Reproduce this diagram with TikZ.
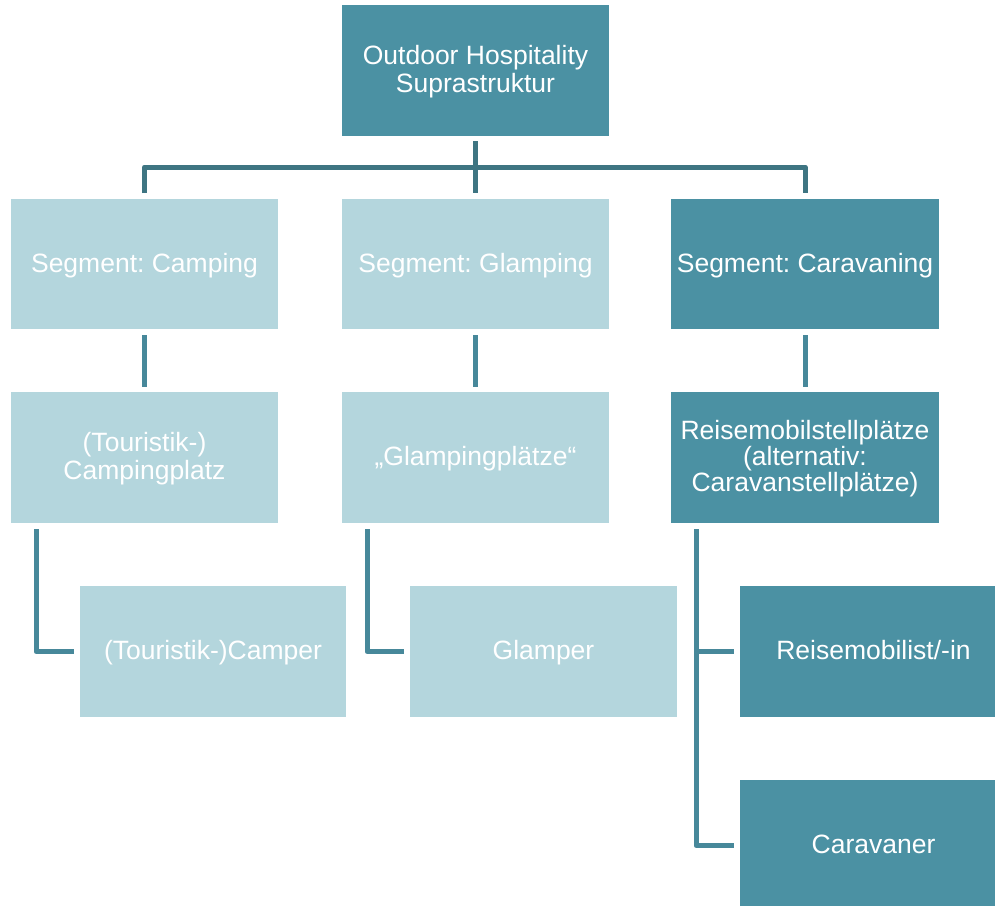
\documentclass[tikz,border=0pt]{standalone}
\usepackage{fontspec}
\setmainfont{Liberation Sans}
\frenchspacing
\definecolor{darkbox}{HTML}{4B91A3}
\definecolor{lightbox}{HTML}{B4D6DD}
\definecolor{lineA}{HTML}{3E7582}
\definecolor{lineB}{HTML}{47889A}
\newcommand\mytstrut{\rule{0pt}{22.2pt}}
\newcommand\mybstrut{\rule[-5.6pt]{0pt}{5.6pt}}
\begin{document}
\begin{tikzpicture}[x=1pt,y=-1pt,
  box/.style={rectangle, inner sep=0pt, outer sep=0pt, minimum width=267pt, minimum height=131pt,
    text=white, align=center, font=\fontsize{26.5}{28.3}\selectfont},
  dbox/.style={box, fill=darkbox},
  lbox/.style={box, fill=lightbox},
  conn/.style={line width=5pt, line join=round},
]
\useasboundingbox (0,0) rectangle (995,905);
\clip (0,0) rectangle (995,905);
\fill[white] (0,0) rectangle (995,905);

\node[dbox] (top) at (475.5,70.5) {\mytstrut Outdoor Hospitality\\Suprastruktur\mybstrut};

\node[lbox, minimum height=130pt] (camp) at (144.5,264) {\mytstrut Segment: Camping\mybstrut};
\node[lbox, minimum height=130pt] (glam) at (475.5,264) {\mytstrut Segment: Glamping\mybstrut};
\node[dbox, minimum height=130pt, minimum width=268pt] (cara) at (805,264) {\mytstrut Segment: Caravaning\mybstrut};

\node[lbox] (cpl) at (144.5,457.5) {\mytstrut(Touristik-)\\Campingplatz\mybstrut};
\node[lbox] (gpl) at (475.5,457.5) {\mytstrut„Glampingplätze“\mybstrut};
\node[dbox, minimum width=268pt, font=\fontsize{26.5}{26}\selectfont] (rsp) at (805,457.5) {\mytstrut Reisemobilstellplätze\\(alternativ:\\Caravanstellplätze)\mybstrut};

\node[lbox, minimum width=266pt] (camper) at (213,651.5) {\mytstrut(Touristik-)Camper\mybstrut};
\node[lbox] (glamper) at (543.5,651.5) {\mytstrut Glamper\mybstrut};
\node[dbox] (rmb) at (873.5,651.5) {\mytstrut Reisemobilist/-in\mybstrut};
\node[dbox] (cvn) at (873.5,845.5) {\mytstrut Caravaner\mybstrut};

% top level bus
\draw[conn, lineA, shorten <=6pt, shorten >=6pt] (camp.north) -- ++(0,-32) -| (cara.north);
\draw[conn, lineA, shorten <=5pt, shorten >=6pt] (top.south) -- (glam.north);

% second level
\draw[conn, lineB, shorten <=6pt, shorten >=5pt] (camp.south) -- (cpl.north);
\draw[conn, lineB, shorten <=6pt, shorten >=5pt] (glam.south) -- (gpl.north);
\draw[conn, lineB, shorten <=6pt, shorten >=5pt] (cara.south) -- (rsp.north);

% third level
\coordinate (cplx) at ([xshift=25pt]cpl.south west);
\coordinate (gplx) at ([xshift=25pt]gpl.south west);
\coordinate (rspx) at ([xshift=25pt]rsp.south west);
\draw[conn, lineB, shorten <=6pt, shorten >=6pt] (cplx) |- (camper.west);
\draw[conn, lineB, shorten <=6pt, shorten >=6pt] (gplx) |- (glamper.west);
\draw[conn, lineB, shorten <=6pt, shorten >=6pt] (rspx) |- (cvn.west);
\draw[conn, lineB, shorten <=6pt, shorten >=6pt] (rspx) |- (rmb.west);
\end{tikzpicture}
\end{document}
